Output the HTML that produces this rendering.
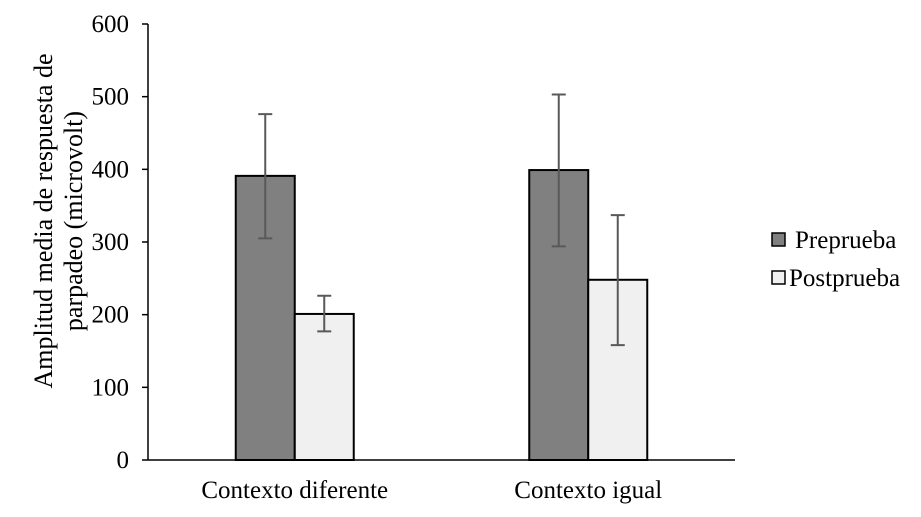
<!DOCTYPE html>
<html><head><meta charset="utf-8"><style>
body{margin:0;background:#fff}
svg{display:block;font-family:"Liberation Serif",serif}
</style></head><body>
<svg id="chart" width="921" height="517"></svg>
<script>
const categories=["Contexto diferente","Contexto igual"];
const seriesNames=["Preprueba","Postprueba"];
const preValues=[391,399];
const postValues=[201,248];
const preErrLow=[305,294];
const preErrHigh=[476,503];
const postErrLow=[177,158];
const postErrHigh=[226,337];
const yTicks=[0,100,200,300,400,500,600];
const NS="http://www.w3.org/2000/svg";
const svg=document.getElementById('chart');
const x0=148,x1=735,yBase=460,yTop=24,yMax=600;
const y=v=>yBase-(v/yMax)*(yBase-yTop);
const groupW=(x1-x0)/categories.length;
const barW=59;
function mk(t,a){const e=document.createElementNS(NS,t);for(const k in a)e.setAttribute(k,a[k]);svg.appendChild(e);return e;}
let e;
e=mk('line',{x1:x0,y1:yTop,x2:x0,y2:yBase,stroke:'#000','stroke-width':1.5});


e=mk('line',{x1:x0,y1:yBase,x2:x1,y2:yBase,stroke:'#000','stroke-width':1.5});


yTicks.forEach(t=>{
 e=mk('line',{x1:x0-6,y1:y(t),x2:x0,y2:y(t),stroke:'#000','stroke-width':1.5});
 
 
 e=mk('text',{x:129,y:y(t)+8,'text-anchor':'end','font-size':25});
 e.textContent=t;
 
 
});
const series=[{v:preValues,lo:preErrLow,hi:preErrHigh,fill:'#808080'},{v:postValues,lo:postErrLow,hi:postErrHigh,fill:'#f0f0f0'}];
categories.forEach((c,i)=>{
 const cx=x0+groupW*(i+0.5);
 series.forEach((s,j)=>{
  const bx=cx-barW+j*barW;
  e=mk('rect',{x:bx,y:y(s.v[i]),width:barW,height:yBase-y(s.v[i]),fill:s.fill,stroke:'#000','stroke-width':2});
  
  
  const mx=bx+barW/2;
  e=mk('path',{d:`M${mx},${y(s.lo[i])}V${y(s.hi[i])}M${mx-7},${y(s.lo[i])}H${mx+7}M${mx-7},${y(s.hi[i])}H${mx+7}`,stroke:'#595959','stroke-width':2,fill:'none'});
  
  
 });
 e=mk('text',{x:cx,y:498,'text-anchor':'middle','font-size':25});
 e.textContent=c;
 
 
});
e=mk('text',{x:0,y:0,'text-anchor':'middle','font-size':26,transform:'translate(52,221) rotate(-90)'});


const t1=document.createElementNS(NS,'tspan');t1.setAttribute('x',0);t1.setAttribute('dy',0);t1.textContent='Amplitud media de respuesta de';e.appendChild(t1);
const t2=document.createElementNS(NS,'tspan');t2.setAttribute('x',0);t2.setAttribute('dy',30);t2.textContent='parpadeo (microvolt)';e.appendChild(t2);
seriesNames.forEach((n,j)=>{
 const ly=[240,278][j];
 e=mk('rect',{x:772,y:ly-7,width:13,height:13,fill:series[j].fill,stroke:'#000','stroke-width':1.5});
 
 
 e=mk('text',{x:j?789:795,y:ly+8,'font-size':25});
 e.textContent=n;
 
 
});
</script>
</body></html>
